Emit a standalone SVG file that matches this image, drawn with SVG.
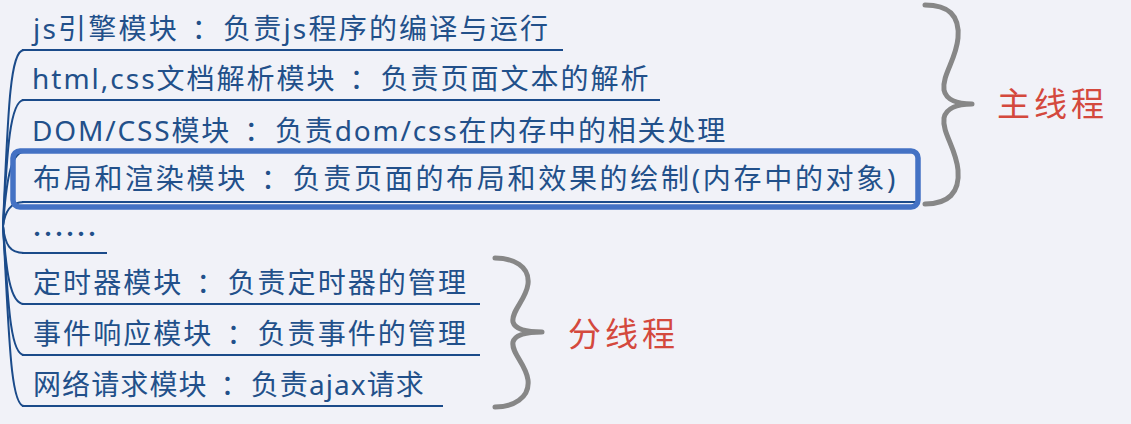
<svg xmlns="http://www.w3.org/2000/svg" width="1131" height="424" viewBox="0 0 1131 424">
<style>
.bg{fill:#f1f2f8}
.t{font-family:"Noto Sans","Noto Sans CJK SC",sans-serif;font-size:28px;fill:#22508a}
.u{stroke:#1b4b8a;stroke-width:2.2;fill:none}
.c{stroke:#1b4b8a;stroke-width:2;fill:none}
.hl{stroke:#4472c4;stroke-width:5.5;fill:none}
.br{stroke:#878787;stroke-width:5;fill:none;stroke-linecap:round;stroke-linejoin:round}
.lb{font-family:"Noto Sans CJK SC",sans-serif;font-size:33px;fill:#d4493d;letter-spacing:4px}
</style>
<rect class="bg" x="0" y="0" width="1131" height="424"/>
<g id="connectors">
<path class="c" d="M3,226 C8,110 10,50 24,50"/>
<path class="c" d="M3,226 C7,150 10,100 24,100"/>
<path class="c" d="M3,226 C6,185 10,152 24,152"/>
<path class="c" d="M3,226 C5,212 10,202 24,202"/>
<path class="c" d="M3,226 C5,245 10,253 24,253"/>
<path class="c" d="M3,226 C6,270 10,304 24,304"/>
<path class="c" d="M3,226 C8,300 10,355 24,355"/>
<path class="c" d="M3,226 C9,330 10,406 24,406"/>
</g>
<g id="n1">
<line class="u" x1="22" y1="50" x2="563" y2="50"/>
<text class="t" x="33" y="39" letter-spacing="2.2">js引擎模块<tspan dx="13">：</tspan><tspan dx="1">负责js程序的编译与运行</tspan></text>
</g>
<g id="n2">
<line class="u" x1="22" y1="100" x2="660" y2="100"/>
<text class="t" x="32" y="89" letter-spacing="2">html,css文档解析模块<tspan dx="13">：</tspan><tspan dx="1">负责页面文本的解析</tspan></text>
</g>
<g id="n3">
<line class="u" x1="22" y1="152" x2="737" y2="152"/>
<text class="t" x="32" y="141" letter-spacing="1.84">DOM/CSS模块<tspan dx="13">：</tspan><tspan dx="1">负责dom/css在内存中的相关处理</tspan></text>
</g>
<g id="n4">
<line class="u" x1="22" y1="202" x2="916" y2="202"/>
<rect class="hl" x="13" y="151" width="905" height="56" rx="7"/>
<text class="t" x="33" y="189" letter-spacing="2.7">布局和渲染模块<tspan dx="13">：</tspan><tspan dx="1">负责页面的布局和效果的绘制(内存中的对象)</tspan></text>
</g>
<g id="n5">
<line class="u" x1="22" y1="253" x2="107" y2="253"/>
<text class="t" x="31.5" y="246" style="font-family:'Noto Sans CJK SC',sans-serif;font-size:33px">……</text>
</g>
<g id="n6">
<line class="u" x1="22" y1="304" x2="480" y2="304"/>
<text class="t" x="33" y="293" letter-spacing="2.07">定时器模块<tspan dx="13">：</tspan><tspan dx="1">负责定时器的管理</tspan></text>
</g>
<g id="n7">
<line class="u" x1="22" y1="355" x2="480" y2="355"/>
<text class="t" x="33" y="344" letter-spacing="2.07">事件响应模块<tspan dx="13">：</tspan><tspan dx="1">负责事件的管理</tspan></text>
</g>
<g id="n8">
<line class="u" x1="22" y1="406" x2="443" y2="406"/>
<text class="t" x="33" y="395" letter-spacing="1.1">网络请求模块<tspan dx="13">：</tspan><tspan dx="1">负责ajax请求</tspan></text>
</g>
<g id="main-thread">
<path class="br" d="M925,5 C948,5 960,15 958,38 C956,60 942,75 944,90 C946,100 958,104 972,104 C958,104 946,108 944,118 C942,133 956,148 958,170 C960,193 948,204 925,204"/>
<text class="lb" x="997" y="116">主线程</text>
</g>
<g id="sub-thread">
<path class="br" d="M495,258 C513,258 530,266 528,284 C526,300 511,311 513,322 C515,329 527,332 542,332 C527,332 515,335 513,342 C511,353 526,364 528,380 C530,398 513,407 495,407"/>
<text class="lb" x="568" y="346">分线程</text>
</g>
</svg>
